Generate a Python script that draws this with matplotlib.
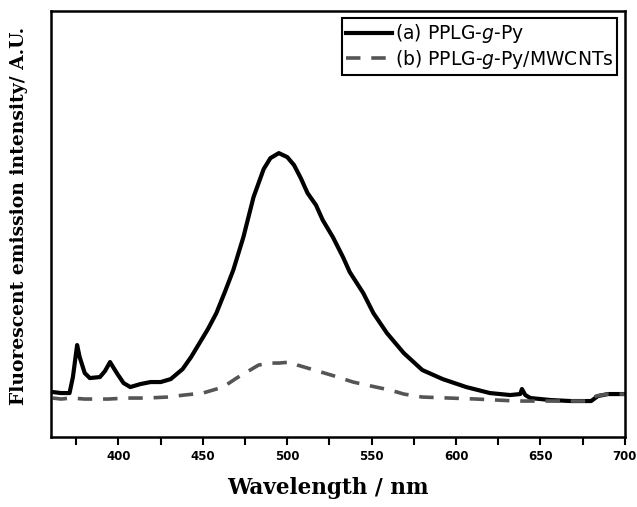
import matplotlib
matplotlib.use("Agg")
import matplotlib.pyplot as plt
from matplotlib.ticker import MultipleLocator

# (a) PPLG-g-Py, solid line
wl_a = [361, 366, 371, 373, 375.5, 377, 380, 383, 389, 392, 395, 399, 403, 407,
        413, 419, 425, 431, 438, 443, 448, 453, 458, 463, 468, 474, 480, 486,
        490, 495, 500, 504, 508, 512, 517, 521, 527, 533, 537, 545, 551, 559,
        569, 580, 592, 606, 620, 632, 638, 639, 641, 644, 656, 668, 680, 684,
        690, 695, 700]
int_a = [45, 44, 44, 60, 92, 80, 64, 59, 60, 66, 75, 64, 54, 50,
         53, 55, 55, 58, 68, 80, 94, 108, 124, 145, 167, 200, 240, 268,
         279, 284, 280, 272, 259, 244, 232, 217, 200, 180, 165, 144, 124, 104,
         84, 67, 58, 50, 44, 42, 43, 48, 42, 39, 37, 36, 36, 41,
         43, 43, 43]

# (b) PPLG-g-Py/MWCNTs, dashed line
wl_b = [361, 366, 372, 380, 387, 394, 405, 417, 429, 439, 450, 462, 470, 476,
        483, 490, 495, 502, 506, 512, 518, 528, 539, 547, 558, 565, 569, 580,
        596, 612, 624, 636, 656, 679, 683, 690, 700]
int_b = [39, 38, 39, 38, 38, 38, 39, 39, 40, 42, 44, 50, 59, 65,
         72, 74, 74, 75, 72, 69, 66, 61, 55, 52, 48, 45, 43, 40,
         39, 38, 37, 36, 36, 36, 41, 43, 43]

xticks = [400, 450, 500, 550, 600, 650, 700]

fig = plt.figure(figsize=(6.37, 5.07), dpi=100)
ax = fig.add_axes([0.080, 0.138, 0.901, 0.840])

ax.plot(wl_a, int_a, color="black", lw=3.0, label="(a) PPLG-$\\it{g}$-Py")
ax.plot(wl_b, int_b, color="#555555", lw=2.6, dashes=(4, 3),
        label="(b) PPLG-$\\it{g}$-Py/MWCNTs")

ax.set_xlim(360, 700)
ax.set_ylim(0, 426)
ax.set_xticks(xticks)
ax.set_xticklabels([str(t) for t in xticks], fontsize=8.5, fontweight="bold")
ax.xaxis.set_minor_locator(MultipleLocator(25))
ax.tick_params(axis="x", which="both", direction="out", length=6, width=1.5)
ax.set_yticks([])
for s in ax.spines.values():
    s.set_linewidth(1.8)

ax.set_xlabel("Wavelength / nm", family="DejaVu Serif", fontweight="bold",
              fontsize=15.5)
ax.xaxis.set_label_coords(0.483, -0.095)
ax.set_ylabel("Fluorescent emission intensity/ A.U.", family="DejaVu Serif",
              fontweight="bold", fontsize=13.5)
ax.yaxis.set_label_coords(-0.040, 0.52)

leg = ax.legend(loc="upper right", bbox_to_anchor=(0.987, 0.983), fontsize=13.5,
                fancybox=False, framealpha=1, edgecolor="black",
                handlelength=2.5, handletextpad=0.15, borderpad=0.2,
                labelspacing=0.15, borderaxespad=0)
leg.get_frame().set_linewidth(1.5)

fig.savefig("out.png", dpi=100)
